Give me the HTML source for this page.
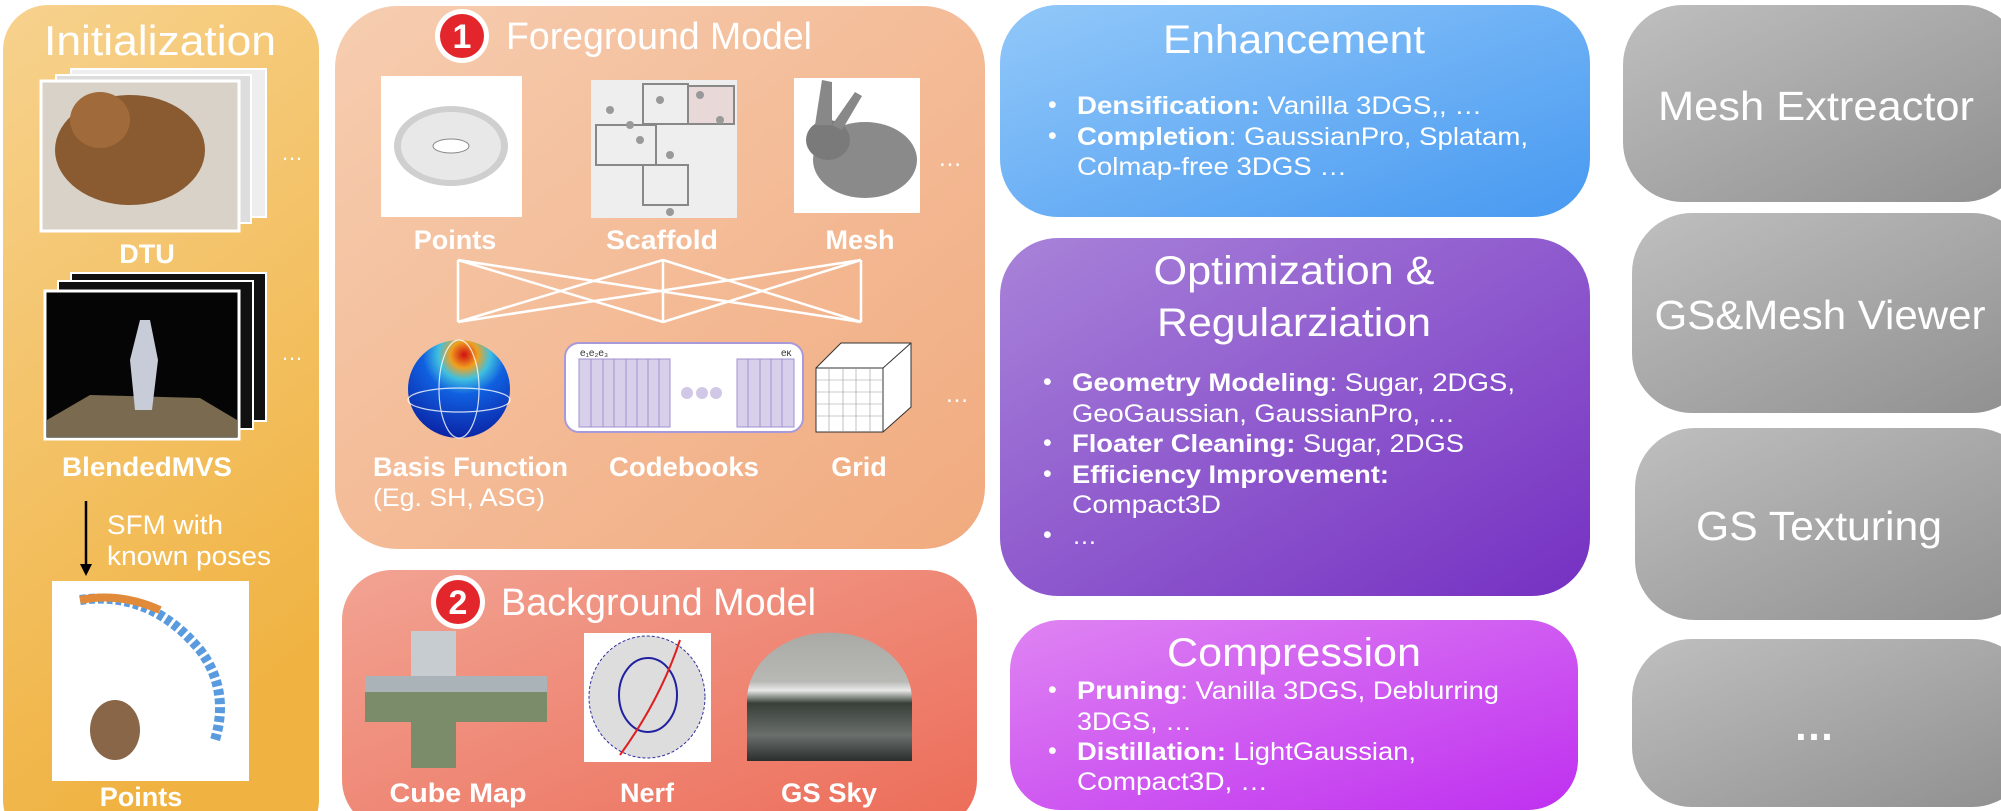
<!DOCTYPE html>
<html><head><meta charset="utf-8"><style>
html,body{margin:0;padding:0;background:#fff;}
svg{display:block;}
text{font-family:"Liberation Sans",sans-serif;fill:#fff;}
.b{font-weight:bold;}
</style></head><body>
<svg width="2001" height="811" viewBox="0 0 2001 811" xmlns="http://www.w3.org/2000/svg">
<defs>
<linearGradient id="gInit" x1="0" y1="0" x2="0.3" y2="1"><stop offset="0" stop-color="#f7d28e"/><stop offset="1" stop-color="#f0b240"/></linearGradient>
<linearGradient id="gFg" x1="0" y1="0" x2="1" y2="1"><stop offset="0" stop-color="#f6cdb0"/><stop offset="1" stop-color="#f1aa7e"/></linearGradient>
<linearGradient id="gBg" x1="0" y1="0" x2="1" y2="1"><stop offset="0" stop-color="#f2a393"/><stop offset="1" stop-color="#ec6c58"/></linearGradient>
<linearGradient id="gEn" x1="0" y1="0" x2="1" y2="1"><stop offset="0" stop-color="#92c8f9"/><stop offset="1" stop-color="#4799f1"/></linearGradient>
<linearGradient id="gOp" x1="0" y1="0" x2="1" y2="1"><stop offset="0" stop-color="#a883d9"/><stop offset="1" stop-color="#7530c2"/></linearGradient>
<linearGradient id="gCo" x1="0" y1="0" x2="1" y2="1"><stop offset="0" stop-color="#df84f2"/><stop offset="1" stop-color="#bf30f0"/></linearGradient>
<linearGradient id="gGr" x1="0" y1="0" x2="1" y2="1"><stop offset="0" stop-color="#bfbfbf"/><stop offset="1" stop-color="#8f8f8f"/></linearGradient>
<radialGradient id="gSph" cx="0.55" cy="0.15" r="0.9"><stop offset="0" stop-color="#d01010"/><stop offset="0.15" stop-color="#f0a020"/><stop offset="0.28" stop-color="#40c0e0"/><stop offset="0.45" stop-color="#1060e0"/><stop offset="1" stop-color="#0a1ea0"/></radialGradient>
<linearGradient id="gSky" x1="0" y1="0" x2="0" y2="1"><stop offset="0" stop-color="#a9aaa6"/><stop offset="0.38" stop-color="#b8b9b5"/><stop offset="0.45" stop-color="#e8e8e8"/><stop offset="0.55" stop-color="#384038"/><stop offset="0.8" stop-color="#6a6e6c"/><stop offset="1" stop-color="#2a2e2c"/></linearGradient>
</defs>

<!-- Initialization -->
<rect x="3" y="5" width="316" height="840" rx="45" fill="url(#gInit)"/>
<text x="160" y="55" text-anchor="middle" font-size="42" textLength="232" lengthAdjust="spacingAndGlyphs">Initialization</text>
<rect x="71" y="69" width="195" height="148" fill="#eee" stroke="#fff" stroke-width="2"/>
<rect x="56" y="75" width="195" height="148" fill="#ddd" stroke="#fff" stroke-width="2"/>
<rect x="41" y="81" width="198" height="150" fill="#d8d2c8" stroke="#fff" stroke-width="3"/>
<ellipse cx="130" cy="150" rx="75" ry="55" fill="#8a5a30"/>
<ellipse cx="100" cy="120" rx="30" ry="28" fill="#a06a3a"/>
<text x="292" y="160" font-size="22" text-anchor="middle">…</text>
<text x="147" y="263" text-anchor="middle" font-size="27" class="b">DTU</text>
<rect x="71" y="273" width="195" height="148" fill="#111" stroke="#fff" stroke-width="2"/>
<rect x="58" y="281" width="195" height="148" fill="#111" stroke="#fff" stroke-width="2"/>
<rect x="45" y="291" width="194" height="148" fill="#050505" stroke="#fff" stroke-width="3"/>
<path d="M47 420 L90 395 L200 398 L237 420 L237 437 L47 437Z" fill="#7a6a50"/>
<path d="M140 320 L150 320 L158 360 L152 410 L135 410 L130 360Z" fill="#c8ccd8"/>
<text x="292" y="360" font-size="22" text-anchor="middle">…</text>
<text x="147" y="476" text-anchor="middle" font-size="27" class="b" textLength="170" lengthAdjust="spacingAndGlyphs">BlendedMVS</text>
<line x1="86" y1="501" x2="86" y2="566" stroke="#000" stroke-width="2.5"/>
<path d="M80 564 L92 564 L86 576Z" fill="#000"/>
<text x="107" y="534" font-size="27" textLength="116" lengthAdjust="spacingAndGlyphs">SFM with</text>
<text x="107" y="565" font-size="27" textLength="164" lengthAdjust="spacingAndGlyphs">known poses</text>
<rect x="52" y="581" width="197" height="200" fill="#fff"/>
<path d="M80 600 Q150 590 200 650 Q230 690 215 740" stroke="#5a9be0" stroke-width="10" fill="none" stroke-dasharray="6 3"/>
<path d="M80 600 Q120 592 160 610" stroke="#e08a3a" stroke-width="8" fill="none"/>
<ellipse cx="115" cy="730" rx="25" ry="30" fill="#8a6648"/>
<text x="141" y="806" text-anchor="middle" font-size="27" class="b">Points</text>

<!-- Foreground -->
<rect x="335" y="6" width="650" height="543" rx="62" fill="url(#gFg)"/>
<circle cx="462" cy="36" r="27" fill="#fff"/>
<circle cx="462" cy="36" r="22" fill="#e3262b"/>
<text x="462" y="48" text-anchor="middle" font-size="34" class="b">1</text>
<text x="506" y="49" font-size="38" textLength="306" lengthAdjust="spacingAndGlyphs">Foreground Model</text>
<rect x="381" y="76" width="141" height="141" fill="#fff"/>
<ellipse cx="451" cy="146" rx="57" ry="40" fill="#cfcfcf"/>
<ellipse cx="451" cy="146" rx="50" ry="34" fill="#e8e8e8"/>
<ellipse cx="451" cy="146" rx="18" ry="7" fill="#fff" stroke="#888"/>
<rect x="591" y="80" width="146" height="138" fill="#eeeeee"/>
<g fill="none" stroke="#888" stroke-width="2"><rect x="596" y="125" width="60" height="40"/><rect x="643" y="84" width="45" height="40"/><rect x="688" y="86" width="46" height="38" fill="#e8d8d8"/><rect x="643" y="165" width="45" height="40"/></g>
<g fill="#999"><circle cx="610" cy="110" r="4"/><circle cx="630" cy="125" r="4"/><circle cx="660" cy="100" r="4"/><circle cx="700" cy="95" r="4"/><circle cx="720" cy="120" r="4"/><circle cx="670" cy="155" r="4"/><circle cx="640" cy="140" r="4"/><circle cx="670" cy="212" r="4"/></g>
<rect x="794" y="78" width="126" height="135" fill="#fff"/>
<ellipse cx="865" cy="160" rx="52" ry="38" fill="#8a8a8a"/>
<ellipse cx="828" cy="140" rx="22" ry="20" fill="#7a7a7a"/>
<path d="M815 125 L822 80 L832 82 L832 125Z M832 125 L855 92 L862 96 L842 130Z" fill="#888"/>
<text x="950" y="166" font-size="24" text-anchor="middle">…</text>
<g class="b" font-size="27" text-anchor="middle"><text x="455" y="249">Points</text><text x="662" y="249" textLength="112" lengthAdjust="spacingAndGlyphs">Scaffold</text><text x="860" y="249">Mesh</text></g>
<g stroke="#fff" stroke-width="2.5"><line x1="458" y1="260" x2="458" y2="322"/><line x1="663" y1="260" x2="663" y2="322"/><line x1="861" y1="260" x2="861" y2="322"/>
<line x1="458" y1="260" x2="663" y2="322"/><line x1="458" y1="260" x2="861" y2="322"/><line x1="663" y1="260" x2="458" y2="322"/><line x1="663" y1="260" x2="861" y2="322"/><line x1="861" y1="260" x2="458" y2="322"/><line x1="861" y1="260" x2="663" y2="322"/></g>
<ellipse cx="459" cy="389" rx="51" ry="49" fill="url(#gSph)"/>
<g stroke="#fff" stroke-width="1.2" fill="none" opacity="0.8"><ellipse cx="459" cy="400" rx="51" ry="12"/><ellipse cx="459" cy="389" rx="20" ry="49"/></g>
<rect x="565" y="343" width="238" height="89" rx="14" fill="#fff" stroke="#a89ad8" stroke-width="2"/>
<g fill="#d8d0ea" stroke="#a090d0"><rect x="579" y="359" width="91" height="68"/><rect x="737" y="359" width="57" height="68"/></g>
<g stroke="#a090d0"><line x1="591" y1="359" x2="591" y2="427"/><line x1="603" y1="359" x2="603" y2="427"/><line x1="614" y1="359" x2="614" y2="427"/><line x1="626" y1="359" x2="626" y2="427"/><line x1="637" y1="359" x2="637" y2="427"/><line x1="648" y1="359" x2="648" y2="427"/><line x1="659" y1="359" x2="659" y2="427"/><line x1="748" y1="359" x2="748" y2="427"/><line x1="760" y1="359" x2="760" y2="427"/><line x1="771" y1="359" x2="771" y2="427"/><line x1="782" y1="359" x2="782" y2="427"/></g>
<g fill="#d0c8e6"><circle cx="687" cy="393" r="6"/><circle cx="702" cy="393" r="6"/><circle cx="716" cy="393" r="6"/></g>
<text x="580" y="356" font-size="10" fill="#333" style="fill:#333">e₁e₂e₃</text><text x="781" y="356" font-size="10" style="fill:#333">eκ</text>
<path d="M816 368 L841 343 L911 343 L911 407 L883 432 L816 432Z" fill="#fff" stroke="#333"/>
<path d="M816 368 L883 368 L911 343 M883 368 L883 432" fill="none" stroke="#333"/>
<g stroke="#999" stroke-width="0.6"><line x1="816" y1="380" x2="883" y2="380"/><line x1="816" y1="392" x2="883" y2="392"/><line x1="816" y1="404" x2="883" y2="404"/><line x1="816" y1="416" x2="883" y2="416"/><line x1="829" y1="368" x2="829" y2="432"/><line x1="843" y1="368" x2="843" y2="432"/><line x1="856" y1="368" x2="856" y2="432"/><line x1="870" y1="368" x2="870" y2="432"/></g>
<text x="957" y="402" font-size="24" text-anchor="middle">…</text>
<text x="373" y="476" font-size="27" class="b" textLength="195" lengthAdjust="spacingAndGlyphs">Basis Function</text>
<text x="373" y="506" font-size="25" textLength="172" lengthAdjust="spacingAndGlyphs">(Eg. SH, ASG)</text>
<text x="684" y="476" text-anchor="middle" font-size="27" class="b" textLength="150" lengthAdjust="spacingAndGlyphs">Codebooks</text>
<text x="859" y="476" text-anchor="middle" font-size="27" class="b">Grid</text>

<!-- Background -->
<rect x="342" y="570" width="635" height="260" rx="50" fill="url(#gBg)"/>
<circle cx="458" cy="602" r="27" fill="#fff"/>
<circle cx="458" cy="602" r="22" fill="#e3262b"/>
<text x="458" y="614" text-anchor="middle" font-size="34" class="b">2</text>
<text x="501" y="615" font-size="38" textLength="315" lengthAdjust="spacingAndGlyphs">Background Model</text>
<path d="M411 631 H456 V676 H547 V722 H456 V768 H411 V722 H365 V676 H411Z" fill="#7b8c6a"/>
<rect x="411" y="631" width="45" height="45" fill="#c6ccd0"/><rect x="365" y="676" width="182" height="16" fill="#a9b3b8"/>
<rect x="584" y="633" width="127" height="129" fill="#fff"/>
<ellipse cx="647" cy="697" rx="58" ry="61" fill="#ddd" stroke="#3030a0" stroke-dasharray="3 2"/>
<ellipse cx="648" cy="695" rx="29" ry="37" fill="none" stroke="#2020a0" stroke-width="2"/>
<path d="M620 755 Q660 700 680 640" stroke="#e02020" stroke-width="2" fill="none"/>
<path d="M747 761 L747 700 A82 67 0 0 1 912 700 L912 761Z" fill="url(#gSky)"/>
<g class="b" font-size="27" text-anchor="middle"><text x="458" y="802" textLength="137" lengthAdjust="spacingAndGlyphs">Cube Map</text><text x="647" y="802">Nerf</text><text x="829" y="802" textLength="96" lengthAdjust="spacingAndGlyphs">GS Sky</text></g>

<!-- Enhancement -->
<rect x="1000" y="5" width="590" height="212" rx="58" fill="url(#gEn)"/>
<text x="1294" y="53" text-anchor="middle" font-size="40" textLength="262" lengthAdjust="spacingAndGlyphs">Enhancement</text>
<g font-size="25"><text x="1048" y="113">•</text><text x="1048" y="144">•</text>
<text x="1077" y="114" textLength="405" lengthAdjust="spacingAndGlyphs"><tspan class="b">Densification:</tspan>  Vanilla 3DGS,, …</text>
<text x="1077" y="145" textLength="451" lengthAdjust="spacingAndGlyphs"><tspan class="b">Completion</tspan>: GaussianPro, Splatam,</text>
<text x="1077" y="175" textLength="270" lengthAdjust="spacingAndGlyphs">Colmap-free 3DGS …</text></g>

<!-- Optimization -->
<rect x="1000" y="238" width="590" height="358" rx="58" fill="url(#gOp)"/>
<text x="1294" y="284" text-anchor="middle" font-size="40" textLength="281" lengthAdjust="spacingAndGlyphs">Optimization &amp;</text>
<text x="1294" y="336" text-anchor="middle" font-size="40" textLength="274" lengthAdjust="spacingAndGlyphs">Regularziation</text>
<g font-size="25"><text x="1043" y="390">•</text><text x="1043" y="451">•</text><text x="1043" y="482">•</text><text x="1043" y="543">•</text>
<text x="1072" y="391" textLength="443" lengthAdjust="spacingAndGlyphs"><tspan class="b">Geometry Modeling</tspan>: Sugar, 2DGS,</text>
<text x="1072" y="422" textLength="383" lengthAdjust="spacingAndGlyphs">GeoGaussian, GaussianPro, …</text>
<text x="1072" y="452" textLength="392" lengthAdjust="spacingAndGlyphs"><tspan class="b">Floater Cleaning:</tspan> Sugar, 2DGS</text>
<text x="1072" y="483" textLength="317" lengthAdjust="spacingAndGlyphs" class="b">Efficiency Improvement:</text>
<text x="1072" y="513" textLength="149" lengthAdjust="spacingAndGlyphs">Compact3D</text>
<text x="1072" y="544">…</text></g>

<!-- Compression -->
<rect x="1010" y="620" width="568" height="190" rx="50" fill="url(#gCo)"/>
<text x="1294" y="666" text-anchor="middle" font-size="40" textLength="254" lengthAdjust="spacingAndGlyphs">Compression</text>
<g font-size="25"><text x="1048" y="698">•</text><text x="1048" y="759">•</text>
<text x="1077" y="699" textLength="422" lengthAdjust="spacingAndGlyphs"><tspan class="b">Pruning</tspan>: Vanilla 3DGS, Deblurring</text>
<text x="1077" y="730" textLength="115" lengthAdjust="spacingAndGlyphs">3DGS, …</text>
<text x="1077" y="760" textLength="339" lengthAdjust="spacingAndGlyphs"><tspan class="b">Distillation:</tspan> LightGaussian,</text>
<text x="1077" y="790" textLength="191" lengthAdjust="spacingAndGlyphs">Compact3D, …</text></g>

<!-- Gray -->
<rect x="1623" y="5" width="400" height="197" rx="60" fill="url(#gGr)"/>
<rect x="1632" y="213" width="400" height="200" rx="60" fill="url(#gGr)"/>
<rect x="1635" y="428" width="400" height="192" rx="60" fill="url(#gGr)"/>
<rect x="1632" y="639" width="400" height="168" rx="60" fill="url(#gGr)"/>
<g font-size="41" text-anchor="middle"><text x="1816" y="120" textLength="316" lengthAdjust="spacingAndGlyphs">Mesh Extreactor</text>
<text x="1820" y="329" textLength="331" lengthAdjust="spacingAndGlyphs">GS&amp;Mesh Viewer</text>
<text x="1819" y="540" textLength="246" lengthAdjust="spacingAndGlyphs">GS Texturing</text>
<text x="1814" y="740" class="b">…</text></g>
</svg>
</body></html>
